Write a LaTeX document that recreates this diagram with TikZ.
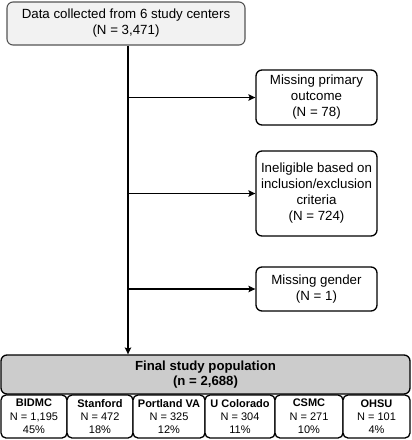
\documentclass[tikz,border=0pt]{standalone}
\usepackage{fontspec}
\setmainfont{Liberation Sans}
\usetikzlibrary{arrows.meta}
\definecolor{topfill}{HTML}{F2F2F2}
\definecolor{topdraw}{HTML}{555555}
\definecolor{finalfill}{HTML}{CCCCCC}
\begin{document}
\begin{tikzpicture}[x=1pt,y=-1pt,
  box/.style={draw=black, line width=1.3pt, rounded corners=6pt, fill=white, align=center,
    inner sep=0pt, font=\fontsize{13.3}{16}\selectfont},
  topbox/.style={box, draw=topdraw, fill=topfill, line width=1.1pt},
  finalbox/.style={box, fill=finalfill, font=\fontsize{13.2}{15.5}\selectfont\bfseries},
  site/.style={draw=black, line width=1.3pt, rounded corners=5pt, fill=white, align=center,
    inner sep=0pt, minimum height=43pt, font=\fontsize{11}{13.3}\selectfont},
  conn/.style={line width=1.4pt, draw=black},
  arr/.style={conn, -{Stealth[length=7pt,width=6.5pt,inset=1.5pt]}}]
\useasboundingbox (0,0) rectangle (412,440);
\node[topbox, minimum width=238pt, minimum height=43pt] (top) at (126,23.5)
  {Data collected from 6 study centers\\(N = 3,471)};
\node[box, minimum width=121pt, minimum height=55pt] (m1) at (316.5,97.5)
  {Missing primary\\outcome\\(N = 78)};
\node[box, minimum width=121pt, minimum height=85pt] (m2) at (316.5,193.5)
  {Ineligible based on\\inclusion/exclusion\\criteria\\(N = 724)};
\node[box, minimum width=121pt, minimum height=44pt] (m3) at (316.5,289)
  {Missing gender\\(N = 1)};
\node[finalbox, minimum width=409pt, minimum height=39pt] (final) at (205.5,374.5)
  {Final study population\\(n = 2,688)};
\node[site, minimum width=66pt] (s1) at (34,416.5) {\textbf{BIDMC}\\N = 1,195\\45\%};
\node[site, minimum width=66pt] (s2) at (100,416.5) {\textbf{Stanford}\\N = 472\\18\%};
\node[site, minimum width=72pt] (s3) at (169,416.5) {\textbf{Portland VA}\\N = 325\\12\%};
\node[site, minimum width=70pt] (s4) at (240,416.5) {\textbf{U Colorado}\\N = 304\\11\%};
\node[site, minimum width=68pt] (s5) at (309,416.5) {\textbf{CSMC}\\N = 271\\10\%};
\node[site, minimum width=67pt] (s6) at (376.5,416.5) {\textbf{OHSU}\\N = 101\\4\%};
\coordinate (trunk) at (128,0);
\draw[arr] (top.south -| trunk) -- (final.north -| trunk);
\draw[arr] (m1.west -| trunk) -- (m1.west);
\draw[arr] (m2.west -| trunk) -- (m2.west);
\draw[arr] (m3.west -| trunk) -- (m3.west);
\end{tikzpicture}
\end{document}
